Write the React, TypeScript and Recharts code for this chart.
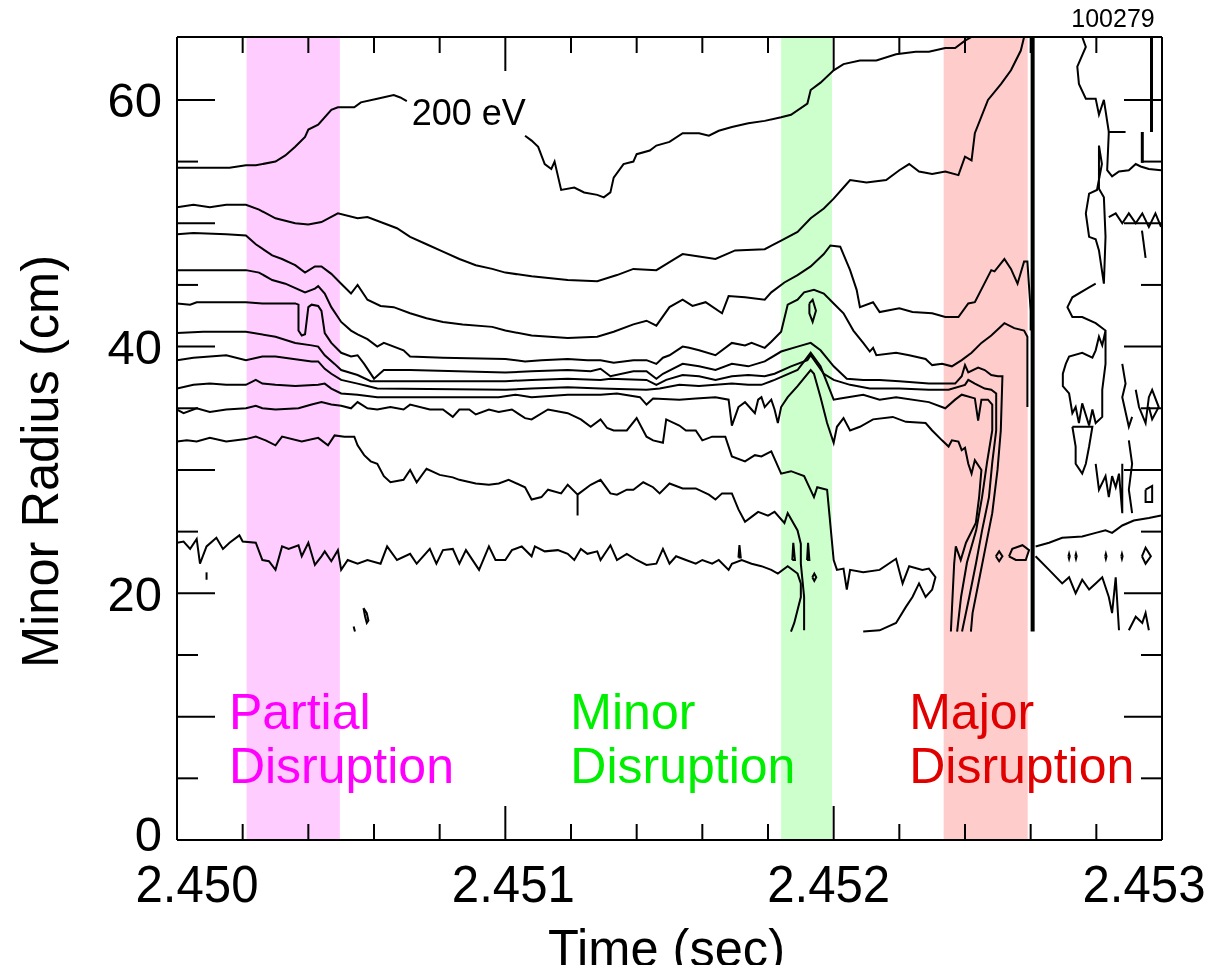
import React from 'react';
import { LineChart, Line, XAxis, YAxis, ReferenceArea, ReferenceLine, ReferenceDot } from 'recharts';

type Pt = [number, number]; // [time (sec), minor radius (cm)]

const W = 1210;
const H = 957;
const PLOT_LEFT = 169;
const PLOT_TOP = 29;
const PLOT_W = 985;
const PLOT_H = 803;
const PLOT_RIGHT = PLOT_LEFT + PLOT_W;
const PLOT_BOTTOM = PLOT_TOP + PLOT_H;
const FONT = '"Liberation Sans", Arial, Helvetica, sans-serif';

// axes
const timeTicks = [2.45, 2.4502, 2.4504, 2.4506, 2.4508, 2.451, 2.4512, 2.4514, 2.4516, 2.4518, 2.452, 2.4522, 2.4524, 2.4526, 2.4528, 2.453];
const timeLabels = ['2.450', '2.451', '2.452', '2.453'];
const radiusTicks = [0, 5, 10, 15, 20, 25, 30, 35, 40, 45, 50, 55, 60];
const radiusLabels = [0, 20, 40, 60];
const shotNumber = '100279';

// disruption windows
const partialBand = [2.450212, 2.450496];
const minorBand = [2.45184, 2.451995];
const majorBand = [2.452335, 2.452591];
const quenchTime = 2.452606;

const bandNotes = [
  { lines: ['Partial', 'Disruption'], t: 2.450158, r: 8.97, color: '#ff00ff' },
  { lines: ['Minor', 'Disruption'], t: 2.451198, r: 8.97, color: '#00ee00' },
  { lines: ['Major', 'Disruption'], t: 2.45223, r: 8.97, color: '#e00000' },
];
const levelNote = { text: '200 eV', t: 2.450715, r: 58.0 };

// 200 eV contour (broken by its label)
const lvl1a: Pt[] = [[2.45, 54.5], [2.45016, 54.5], [2.45021, 54.7], [2.45024, 54.7], [2.4503, 55.0], [2.45033, 55.5], [2.45036, 56.2], [2.45039, 57.0], [2.4504, 57.6], [2.45043, 58.0], [2.45047, 59.2], [2.45049, 59.4], [2.45054, 59.4], [2.45056, 59.8], [2.45061, 60.1], [2.45066, 60.4], [2.45068, 60.2], [2.4507, 59.9]];
const lvl1b: Pt[] = [[2.45106, 57.1], [2.45108, 56.7], [2.4511, 56.2], [2.45112, 54.8], [2.45114, 54.4], [2.45115, 55.0], [2.45117, 52.7], [2.45121, 52.9], [2.45124, 52.5], [2.45128, 52.3], [2.4513, 52.1], [2.45132, 52.5], [2.45133, 53.7], [2.45136, 54.8], [2.45139, 55.0], [2.4514, 55.6], [2.45144, 55.9], [2.45146, 56.3], [2.4515, 56.6], [2.45154, 57.3], [2.45159, 57.3], [2.45162, 57.1], [2.45165, 57.5], [2.45169, 57.8], [2.45174, 58.1], [2.45179, 58.3], [2.45184, 58.6], [2.45187, 58.8], [2.45192, 59.7], [2.45193, 60.8], [2.45196, 61.4], [2.452, 62.4], [2.45203, 62.9], [2.45208, 63.2], [2.45213, 63.2], [2.45219, 63.7], [2.45225, 63.9], [2.45229, 63.9], [2.45234, 64.2], [2.45237, 64.2], [2.4524, 64.8], [2.45242, 65.1]];
const lvl2: Pt[] = [[2.45, 51.3], [2.45005, 51.5], [2.4501, 51.3], [2.45015, 51.5], [2.45021, 51.5], [2.45025, 51.1], [2.4503, 50.4], [2.45036, 50.0], [2.4504, 49.9], [2.45044, 50.1], [2.45049, 50.8], [2.45055, 50.4], [2.45058, 50.5], [2.45063, 50.0], [2.45067, 49.6], [2.45071, 48.9], [2.45076, 48.3], [2.45081, 47.7], [2.45086, 47.1], [2.45091, 46.6], [2.45096, 46.3], [2.451, 46.0], [2.45108, 45.7], [2.45119, 45.4], [2.45128, 45.3], [2.45134, 45.8], [2.45139, 46.3], [2.45146, 46.2], [2.45154, 47.5], [2.45159, 47.3], [2.45164, 47.1], [2.4517, 47.8], [2.45179, 47.9], [2.45184, 48.6], [2.45189, 49.3], [2.45193, 50.4], [2.45197, 51.2], [2.452, 52.0], [2.45203, 52.9], [2.45205, 53.5], [2.4521, 53.3], [2.45216, 53.5], [2.4522, 54.3], [2.45223, 54.8], [2.45226, 54.2], [2.4523, 54.0], [2.45234, 54.2], [2.45238, 53.9], [2.4524, 55.4], [2.45242, 55.1], [2.45243, 57.3], [2.45247, 60.0], [2.45251, 61.3], [2.45254, 62.4], [2.45257, 64.0], [2.45258, 65.1]];
const lvl3: Pt[] = [[2.45, 49.1], [2.45005, 49.2], [2.45015, 49.1], [2.45021, 49.0], [2.45024, 48.3], [2.45029, 47.4], [2.45032, 47.1], [2.45036, 46.6], [2.45039, 46.0], [2.45042, 46.5], [2.45044, 46.5], [2.45047, 45.9], [2.4505, 45.1], [2.45053, 44.3], [2.45055, 45.0], [2.45058, 43.8], [2.45062, 43.3], [2.45066, 43.2], [2.45071, 42.7], [2.45076, 42.3], [2.45081, 42.0], [2.45087, 41.8], [2.45096, 41.6], [2.451, 41.3], [2.45108, 40.9], [2.45119, 40.7], [2.45128, 40.8], [2.45133, 41.2], [2.45139, 41.8], [2.45143, 42.1], [2.45146, 41.7], [2.4515, 43.2], [2.45154, 43.8], [2.45157, 43.3], [2.45161, 43.6], [2.45166, 42.7], [2.45168, 44.1], [2.45173, 44.0], [2.45179, 43.8], [2.45181, 44.4], [2.45185, 45.2], [2.45189, 45.8], [2.45193, 46.5], [2.45197, 47.5], [2.45199, 48.2], [2.45202, 48.1], [2.45205, 46.2], [2.45207, 44.6], [2.45208, 43.2], [2.45212, 43.6], [2.45214, 42.8], [2.4522, 43.1], [2.45224, 42.8], [2.4523, 42.7], [2.45234, 42.4], [2.45238, 42.4], [2.45241, 43.5], [2.45243, 43.6], [2.45248, 46.2], [2.45249, 46.1], [2.45252, 47.1], [2.45254, 46.3], [2.45256, 45.1], [2.45258, 46.9], [2.45259, 46.9], [2.4526, 42.9], [2.4526, 41.3]];
const lvl4: Pt[] = [[2.45, 46.2], [2.4501, 46.2], [2.45016, 46.2], [2.45021, 46.2], [2.45025, 46.0], [2.45029, 45.4], [2.45033, 45.1], [2.45039, 44.4], [2.45042, 44.7], [2.45043, 44.9], [2.45045, 44.3], [2.45047, 43.2], [2.4505, 42.0], [2.45053, 41.3], [2.45055, 41.0], [2.45058, 40.6], [2.45061, 40.0], [2.45063, 40.3], [2.45069, 39.7], [2.45071, 39.2], [2.45081, 39.1], [2.451, 39.0], [2.45106, 38.8], [2.45111, 38.9], [2.45119, 39.0], [2.45125, 38.9], [2.45129, 38.9], [2.45133, 38.7], [2.45139, 38.9], [2.45143, 38.9], [2.45146, 38.6], [2.45148, 39.1], [2.4515, 39.3], [2.45154, 40.0], [2.45156, 39.9], [2.45159, 39.7], [2.45164, 39.3], [2.45169, 40.3], [2.45173, 40.1], [2.45175, 40.3], [2.45179, 39.9], [2.45181, 40.4], [2.45184, 41.2], [2.45186, 43.4], [2.45189, 43.8], [2.45191, 44.4], [2.45194, 44.6], [2.45197, 44.3], [2.452, 43.5], [2.45203, 42.7], [2.45206, 41.3], [2.45209, 40.3], [2.45211, 39.6], [2.45212, 39.9], [2.45213, 39.3], [2.45219, 39.5], [2.45223, 39.3], [2.45228, 39.0], [2.4523, 38.5], [2.45233, 38.6], [2.45236, 38.4], [2.45239, 38.9], [2.45242, 39.5], [2.45245, 40.3], [2.45248, 40.9], [2.45252, 41.9], [2.45255, 41.5], [2.45258, 41.3], [2.45259, 40.8], [2.45259, 38.1], [2.45259, 35.1]];
const lvl5: Pt[] = [[2.45, 43.5], [2.45004, 43.4], [2.45006, 43.6], [2.45021, 43.6], [2.45026, 43.5], [2.45036, 43.5], [2.45037, 43.4], [2.45037, 41.3], [2.45038, 40.9], [2.45039, 41.0], [2.4504, 43.2], [2.45041, 43.4], [2.45043, 43.3], [2.45044, 42.9], [2.45045, 41.1], [2.45047, 40.3], [2.4505, 39.5], [2.45053, 39.2], [2.45055, 39.3], [2.45057, 38.6], [2.4506, 37.4], [2.45063, 38.1], [2.45071, 38.1], [2.451, 37.9], [2.45108, 38.0], [2.45119, 38.1], [2.45126, 38.0], [2.45129, 38.2], [2.45132, 37.6], [2.45139, 38.0], [2.45143, 38.0], [2.45146, 37.4], [2.45148, 37.8], [2.45154, 38.6], [2.45159, 38.4], [2.45164, 38.1], [2.45169, 38.6], [2.45174, 38.4], [2.45179, 38.8], [2.45184, 39.6], [2.45189, 40.0], [2.45193, 40.3], [2.45196, 39.7], [2.452, 38.4], [2.45204, 37.4], [2.45209, 37.3], [2.45214, 37.3], [2.4522, 37.2], [2.45229, 37.0], [2.45233, 37.0], [2.45237, 37.0], [2.45239, 37.6], [2.4524, 38.5], [2.45241, 37.9], [2.45244, 38.3], [2.45246, 38.1], [2.45248, 37.7], [2.4525, 37.6], [2.452514, 37.6], [2.452509, 33.2], [2.452499, 30.0], [2.452483, 26.5], [2.452463, 23.8], [2.452443, 21.1], [2.452423, 18.4], [2.452418, 16.9]];
const lvl6: Pt[] = [[2.45, 41.1], [2.45008, 41.2], [2.45021, 41.2], [2.4503, 40.8], [2.45036, 40.3], [2.45041, 40.1], [2.45043, 40.0], [2.45045, 39.3], [2.45048, 38.6], [2.4505, 38.1], [2.45055, 37.7], [2.45059, 37.2], [2.45061, 37.2], [2.451, 37.2], [2.45108, 37.3], [2.45119, 37.4], [2.45129, 37.3], [2.45132, 37.4], [2.45143, 37.3], [2.45146, 36.9], [2.45149, 37.3], [2.45154, 37.7], [2.45159, 37.6], [2.45164, 37.3], [2.45169, 37.6], [2.45174, 37.7], [2.45179, 37.6], [2.45182, 37.8], [2.45187, 38.4], [2.45192, 38.9], [2.45193, 39.3], [2.45197, 37.8], [2.452, 37.3], [2.45205, 36.9], [2.45211, 36.6], [2.4522, 36.6], [2.45229, 36.5], [2.45235, 36.5], [2.4524, 36.9], [2.45241, 37.3], [2.45243, 37.0], [2.45246, 36.6], [2.45248, 36.5], [2.452495, 36.2], [2.452495, 33.2], [2.452483, 30.6], [2.452473, 27.8], [2.452452, 25.1], [2.452434, 22.5], [2.452413, 19.7], [2.452391, 16.9]];
const lvl7: Pt[] = [[2.45, 38.9], [2.45005, 39.1], [2.4501, 39.2], [2.45015, 39.3], [2.45021, 38.9], [2.45026, 39.2], [2.4503, 39.2], [2.45041, 38.8], [2.45043, 38.8], [2.45045, 38.2], [2.45047, 37.8], [2.4505, 37.3], [2.45055, 37.0], [2.45058, 36.8], [2.45061, 36.6], [2.451, 36.5], [2.45108, 36.6], [2.45119, 36.7], [2.45129, 36.6], [2.45143, 36.5], [2.45147, 36.6], [2.45153, 36.9], [2.45159, 36.8], [2.45169, 37.0], [2.45174, 36.9], [2.45178, 36.9], [2.45182, 37.3], [2.45189, 38.1], [2.45193, 39.5], [2.45196, 38.4], [2.452, 35.7], [2.45202, 35.8], [2.45209, 36.1], [2.45214, 35.7], [2.45219, 35.9], [2.45229, 35.5], [2.45234, 35.0], [2.45237, 35.7], [2.45239, 36.1], [2.45243, 35.8], [2.45244, 34.0], [2.45245, 35.7], [2.45247, 35.7], [2.452483, 35.3], [2.452483, 33.2], [2.452467, 30.6], [2.452452, 27.8], [2.452434, 25.1], [2.452406, 22.5], [2.452388, 19.7], [2.452376, 16.9]];
const lvl8: Pt[] = [[2.45, 36.6], [2.45005, 36.9], [2.4501, 37.0], [2.45015, 36.9], [2.45021, 36.9], [2.45024, 37.3], [2.45026, 37.0], [2.4503, 36.9], [2.45036, 36.8], [2.45043, 36.9], [2.45045, 37.0], [2.45047, 36.6], [2.4505, 36.2], [2.45055, 36.1], [2.45061, 35.9], [2.45098, 35.9], [2.45103, 36.1], [2.45108, 35.9], [2.45119, 36.1], [2.45129, 36.1], [2.45134, 36.2], [2.45141, 35.9], [2.45143, 35.3], [2.45145, 35.8], [2.45153, 35.7], [2.45158, 35.8], [2.45164, 35.9], [2.45168, 35.7], [2.45169, 33.6], [2.45171, 35.1], [2.45173, 35.5], [2.45175, 34.9], [2.45176, 34.6], [2.45177, 35.7], [2.45178, 35.9], [2.45179, 35.1], [2.45181, 35.7], [2.45182, 34.9], [2.45183, 33.8], [2.45184, 35.1], [2.45186, 35.9], [2.45189, 36.8], [2.45193, 38.1], [2.45194, 37.8], [2.45196, 35.9], [2.45198, 33.8], [2.452, 32.2], [2.45201, 33.5], [2.45203, 34.2], [2.45205, 33.2], [2.45208, 33.5], [2.45212, 34.1], [2.45218, 34.3], [2.45222, 33.9], [2.45228, 33.8], [2.4523, 33.2], [2.45233, 32.4], [2.45235, 31.9], [2.45236, 32.4], [2.45238, 32.3], [2.45239, 31.6], [2.4524, 31.8], [2.45241, 30.5], [2.45242, 29.7], [2.45243, 30.8], [2.45245, 30.0], [2.452443, 27.8], [2.452433, 25.7], [2.452403, 24.1], [2.452387, 22.7], [2.452372, 23.8], [2.452367, 22.4], [2.452362, 19.7], [2.452357, 16.9]];
const lvl9: Pt[] = [[2.45, 34.9], [2.45002, 34.6], [2.45006, 35.0], [2.4501, 34.7], [2.45015, 34.9], [2.45021, 35.0], [2.45024, 35.2], [2.45026, 35.0], [2.4503, 34.9], [2.45037, 35.0], [2.45041, 35.3], [2.45044, 35.5], [2.45047, 35.3], [2.4505, 35.2], [2.45053, 35.0], [2.45055, 35.5], [2.45058, 35.0], [2.45061, 34.9], [2.45065, 35.1], [2.45069, 34.9], [2.45071, 35.3], [2.45077, 34.9], [2.45081, 34.9], [2.45084, 34.3], [2.45086, 34.9], [2.45089, 34.9], [2.45091, 34.5], [2.45095, 34.9], [2.45098, 34.7], [2.45102, 34.9], [2.45106, 34.2], [2.45108, 34.1], [2.45113, 34.9], [2.45119, 34.6], [2.45123, 34.1], [2.45126, 33.5], [2.45129, 34.1], [2.45131, 33.4], [2.45133, 33.2], [2.45137, 33.2], [2.4514, 34.2], [2.45143, 32.7], [2.45145, 32.4], [2.45148, 32.2], [2.45149, 34.1], [2.45153, 33.6], [2.45155, 33.2], [2.45158, 33.2], [2.4516, 32.4], [2.45163, 32.7], [2.45167, 32.7], [2.45169, 31.1], [2.45173, 30.7], [2.45176, 31.2], [2.45178, 31.1], [2.45181, 31.5], [2.45184, 29.7], [2.45187, 29.9], [2.45191, 29.5], [2.45194, 27.8], [2.45195, 28.6], [2.45198, 28.4], [2.452, 22.7], [2.45201, 21.9], [2.45203, 22.0], [2.45204, 20.3], [2.45205, 21.9], [2.45209, 21.7], [2.45214, 21.9], [2.45219, 22.8], [2.45221, 20.8], [2.45223, 22.2], [2.45227, 21.9], [2.45229, 22.0], [2.45231, 21.3], [2.4523, 20.3], [2.45228, 19.7], [2.45226, 20.8], [2.45224, 19.7], [2.45222, 18.9], [2.45219, 17.6], [2.45214, 17.0], [2.45209, 16.9]];
const lvl10: Pt[] = [[2.45, 32.3], [2.45003, 32.4], [2.45006, 32.3], [2.4501, 32.6], [2.45015, 32.3], [2.45021, 32.5], [2.45024, 32.7], [2.45027, 32.4], [2.4503, 32.0], [2.45032, 32.7], [2.45038, 32.3], [2.45043, 32.6], [2.45046, 32.0], [2.45048, 32.8], [2.45051, 32.7], [2.45054, 32.7], [2.45055, 32.0], [2.45057, 31.2], [2.45059, 30.7], [2.45061, 30.5], [2.45063, 29.5], [2.45065, 29.0], [2.45069, 29.2], [2.45071, 30.0], [2.45073, 29.0], [2.45076, 30.1], [2.4508, 29.6], [2.45084, 29.4], [2.45086, 29.2], [2.45091, 28.9], [2.45095, 28.8], [2.45098, 28.9], [2.45101, 29.2], [2.45106, 28.6], [2.45108, 27.6], [2.45111, 27.8], [2.45113, 28.4], [2.45117, 28.1], [2.45119, 28.8], [2.45122, 28.0], [2.45122, 26.3], [2.45122, 28.0], [2.45126, 28.8], [2.45129, 29.2], [2.45132, 28.1], [2.45134, 28.0], [2.45137, 28.4], [2.45139, 28.4], [2.45142, 29.0], [2.45145, 28.6], [2.45147, 28.1], [2.4515, 28.9], [2.45154, 28.5], [2.45158, 28.5], [2.45162, 28.0], [2.45164, 27.6], [2.45166, 28.1], [2.45169, 28.1], [2.45171, 26.8], [2.45173, 25.8], [2.45175, 26.2], [2.45177, 26.6], [2.4518, 26.3], [2.45182, 26.6], [2.45185, 25.7], [2.45186, 26.5], [2.45189, 25.1], [2.4519, 24.0], [2.4519, 22.4], [2.45191, 19.7], [2.45191, 17.0]];
const lvl11: Pt[] = [[2.45, 24.1], [2.45002, 24.2], [2.45004, 23.6], [2.45006, 24.4], [2.45007, 22.4], [2.45009, 23.8], [2.45012, 24.5], [2.45014, 23.6], [2.45016, 24.1], [2.45019, 24.7], [2.4502, 24.2], [2.45024, 24.1], [2.45026, 22.7], [2.45028, 22.6], [2.4503, 21.9], [2.45032, 23.8], [2.45034, 23.6], [2.45037, 23.9], [2.45038, 23.0], [2.4504, 24.1], [2.45042, 22.3], [2.45044, 23.0], [2.45045, 23.4], [2.45047, 22.6], [2.45049, 23.5], [2.4505, 21.9], [2.45052, 22.7], [2.45055, 22.4], [2.45058, 22.7], [2.45062, 22.4], [2.45064, 23.8], [2.45067, 22.7], [2.45071, 23.2], [2.45073, 22.4], [2.45077, 23.6], [2.45079, 22.4], [2.45081, 23.5], [2.45084, 23.6], [2.45086, 22.4], [2.45088, 23.5], [2.45092, 21.9], [2.45095, 23.8], [2.45097, 22.7], [2.451, 22.7], [2.45102, 23.5], [2.45105, 23.8], [2.45108, 23.0], [2.45109, 23.8], [2.45112, 23.4], [2.45116, 23.5], [2.45119, 23.2], [2.45121, 22.7], [2.45123, 23.6], [2.45125, 23.2], [2.45128, 23.4], [2.45129, 22.7], [2.45132, 23.9], [2.45134, 22.7], [2.45137, 23.2], [2.4514, 22.7], [2.45143, 22.3], [2.45146, 22.4], [2.45148, 23.6], [2.4515, 22.4], [2.45152, 23.0], [2.45155, 22.7], [2.45158, 22.4], [2.4516, 22.7], [2.45163, 22.4], [2.45165, 22.7], [2.45168, 21.9], [2.45169, 22.4], [2.45172, 22.7], [2.45175, 22.4], [2.45178, 22.2], [2.45181, 21.9], [2.45183, 21.6], [2.45186, 22.2], [2.45189, 21.6], [2.4519, 20.8], [2.4519, 19.7], [2.45188, 17.6], [2.45187, 16.9]];

// small islands and fragments
const islands: Pt[][] = [
  [[2.45009, 21.7], [2.45009, 21.1]],
  [[2.450568, 18.8], [2.450578, 18.4], [2.450583, 17.8], [2.450578, 17.6], [2.450573, 18.1], [2.450568, 18.8]],
  [[2.450538, 17.3], [2.450542, 16.9]],
  [[2.451926, 43.5], [2.451936, 43.8], [2.451946, 42.9], [2.451936, 42.0], [2.451926, 42.7], [2.451926, 43.5]],
  [[2.45171, 22.9], [2.451713, 23.9], [2.451717, 22.9], [2.45171, 22.9]],
  [[2.451874, 22.7], [2.451877, 24.1], [2.451882, 22.7], [2.451874, 22.7]],
  [[2.451919, 22.7], [2.451922, 24.1], [2.451926, 22.7], [2.451919, 22.7]],
  [[2.451935, 21.3], [2.451941, 21.6], [2.451947, 21.3], [2.451941, 21.0], [2.451935, 21.3]],
];

// post-quench fragments
const afterQuench: Pt[][] = [
  [[2.452757, 65.1], [2.452768, 64.3], [2.452742, 62.7], [2.452747, 61.3], [2.452768, 60.1], [2.452798, 60.1], [2.452808, 58.8], [2.452823, 60.0], [2.452838, 57.4], [2.452889, 57.4]],
  [[2.452838, 57.4], [2.452833, 54.3], [2.452848, 53.8], [2.452869, 54.2], [2.452899, 54.3], [2.45292, 54.8], [2.452935, 54.6], [2.45296, 54.4], [2.452997, 54.3]],
  [[2.452808, 56.3], [2.452817, 54.8], [2.452802, 52.7], [2.452778, 52.4], [2.452768, 50.8], [2.452778, 48.9], [2.452798, 48.7], [2.452808, 47.8], [2.452823, 45.1], [2.452828, 48.9], [2.452823, 52.1], [2.452808, 52.8], [2.452808, 56.3]],
  [[2.452838, 50.5], [2.452859, 50.8], [2.452879, 50.0], [2.452899, 50.8], [2.45292, 50.0], [2.45294, 50.8], [2.45296, 49.7], [2.45298, 50.8], [2.452997, 49.7]],
  [[2.452939, 49.4], [2.45295, 47.2]],
  [[2.452798, 45.1], [2.452778, 44.8], [2.452727, 44.0], [2.452712, 43.2], [2.452727, 42.4], [2.452757, 42.4], [2.452798, 41.9], [2.452828, 41.3], [2.452818, 40.1], [2.452808, 40.8], [2.452798, 39.7], [2.452788, 39.1], [2.452757, 39.5], [2.452717, 39.2], [2.452707, 38.6], [2.452698, 37.8], [2.452698, 36.8], [2.452717, 36.2], [2.452727, 34.6], [2.452737, 35.1], [2.452747, 33.8], [2.452757, 35.4], [2.452778, 33.6], [2.452788, 34.9], [2.452798, 33.8], [2.452818, 34.3], [2.452818, 36.5], [2.452828, 38.6], [2.452828, 41.3]],
  [[2.452727, 33.5], [2.452737, 31.9], [2.452737, 30.5], [2.452757, 29.7], [2.452768, 30.5], [2.452778, 31.9], [2.452788, 33.5], [2.452727, 33.5]],
  [[2.452798, 30.5], [2.452808, 28.4], [2.452828, 29.5], [2.452838, 27.8], [2.452848, 29.5], [2.452859, 28.6], [2.452869, 29.7], [2.452879, 26.5], [2.452879, 30.5]],
  [[2.452615, 23.8], [2.452656, 24.1], [2.452696, 24.5], [2.452757, 24.6], [2.452798, 24.9], [2.452828, 25.1], [2.452848, 24.9], [2.452879, 25.5], [2.452914, 25.9], [2.45296, 26.1], [2.452997, 26.3]],
  [[2.452615, 23.0], [2.452656, 21.9], [2.452696, 20.8], [2.452717, 21.3], [2.452737, 20.0], [2.452757, 21.1], [2.452778, 20.3], [2.452798, 20.8], [2.452818, 21.3], [2.452838, 19.7], [2.452848, 18.4], [2.452859, 21.3], [2.452869, 17.0]],
  [[2.452534, 23.0], [2.452544, 23.6], [2.452575, 23.9], [2.452595, 23.5], [2.452585, 22.7], [2.452555, 22.7], [2.452534, 23.0]],
  [[2.452494, 23.0], [2.452504, 23.4], [2.452514, 23.0], [2.452504, 22.6], [2.452494, 23.0]],
  [[2.452715, 23.0], [2.452717, 23.2], [2.452719, 23.0], [2.452717, 22.8], [2.452715, 23.0]],
  [[2.452736, 23.0], [2.452738, 23.2], [2.45274, 23.0], [2.452738, 22.8], [2.452736, 23.0]],
  [[2.452827, 23.0], [2.452829, 23.2], [2.452831, 23.0], [2.452829, 22.8], [2.452827, 23.0]],
  [[2.452876, 23.0], [2.452878, 23.2], [2.45288, 23.0], [2.452878, 22.8], [2.452876, 23.0]],
  [[2.452939, 23.0], [2.45295, 23.7], [2.452966, 23.0], [2.45295, 22.4], [2.452939, 23.0]],
  [[2.452899, 17.0], [2.45292, 18.1], [2.45294, 17.6], [2.45295, 18.4], [2.45296, 17.0]],
  [[2.452879, 38.6], [2.452889, 37.0], [2.452879, 35.9], [2.452899, 33.5], [2.452909, 34.3]],
  [[2.45292, 36.5], [2.45293, 35.1], [2.45295, 33.8], [2.45296, 35.9], [2.45297, 36.5], [2.45299, 35.1], [2.45297, 34.1], [2.45296, 35.1]],
  [[2.452899, 32.4], [2.452909, 30.5], [2.452899, 28.4], [2.452909, 26.5]],
  [[2.45295, 28.4], [2.45297, 28.7], [2.45297, 27.4], [2.45295, 27.4], [2.45295, 28.4]],
];
const boldStrokes: Pt[][] = [
  [[2.452968, 65.1], [2.452968, 57.4]],
  [[2.45294, 57.4], [2.45294, 54.9]],
];
const quenchLine: Pt[] = [[quenchTime, 65.1], [quenchTime, 16.9]];

const contours: Pt[][] = [lvl1a, lvl1b, lvl2, lvl3, lvl4, lvl5, lvl6, lvl7, lvl8, lvl9, lvl10, lvl11];

const rows = (pts: Pt[]) => pts.map(([t, r]) => ({ t, r }));

const LABEL_SHIFT = [20, 8, -5, -18];

const XTick = (props: any) => {
  const { x, payload } = props;
  const v: number = payload.value;
  const idx = timeLabels.findIndex((s) => Math.abs(parseFloat(s) - v) < 1e-7);
  const len = idx >= 0 ? 34 : 16;
  return (
    <g>
      <line x1={x} x2={x} y1={PLOT_BOTTOM} y2={PLOT_BOTTOM - len} stroke="#000" strokeWidth={2} />
      <line x1={x} x2={x} y1={PLOT_TOP} y2={PLOT_TOP + len} stroke="#000" strokeWidth={2} />
      {idx >= 0 && (
        <text x={x + LABEL_SHIFT[idx]} y={PLOT_BOTTOM + 62} textAnchor="middle" fontSize={52} fontFamily={FONT} fill="#000" textLength={123} lengthAdjust="spacingAndGlyphs">
          {timeLabels[idx]}
        </text>
      )}
    </g>
  );
};

const YTick = (props: any) => {
  const { y, payload } = props;
  const v: number = payload.value;
  const len = v % 10 === 0 ? 38 : 21;
  return (
    <g>
      <line x1={PLOT_LEFT} x2={PLOT_LEFT + len} y1={y} y2={y} stroke="#000" strokeWidth={2} />
      <line x1={PLOT_RIGHT} x2={PLOT_RIGHT - len} y1={y} y2={y} stroke="#000" strokeWidth={2} />
      {radiusLabels.includes(v) && (
        <text x={PLOT_LEFT - 15} y={y + (v === 0 ? 11 : 17.5)} textAnchor="end" fontSize={49} fontFamily={FONT} fill="#000">
          {v}
        </text>
      )}
    </g>
  );
};

const xTitle = () => (
  <text x={PLOT_LEFT + 489.5} y={PLOT_BOTTOM + 126} textAnchor="middle" fontSize={52} fontFamily={FONT} fill="#000" textLength={237} lengthAdjust="spacingAndGlyphs">
    Time (sec)
  </text>
);

const yTitle = () => (
  <text x={0} y={0} transform={`translate(50, 453.5) rotate(-90)`} textAnchor="middle" fontSize={52} fontFamily={FONT} fill="#000" textLength={413} lengthAdjust="spacingAndGlyphs">
    Minor Radius (cm)
  </text>
);

const runLabel = (props: any) => {
  const vb = props.viewBox || {};
  return (
    <text x={(vb.x ?? PLOT_LEFT) + (vb.width ?? PLOT_W) - 49} y={(vb.y ?? PLOT_TOP) - 10} textAnchor="middle" fontSize={25} fontFamily={FONT} fill="#000">
      {shotNumber}
    </text>
  );
};

const noteLabel = (lines: string[], color: string) => (props: any) => {
  const vb = props.viewBox || {};
  return (
    <text x={vb.x} y={vb.y} fontSize={50} fontFamily={FONT} fill={color}>
      {lines.map((s, i) => (
        <tspan key={s} x={vb.x} dy={i === 0 ? 0 : 53.4}>
          {s}
        </tspan>
      ))}
    </text>
  );
};

const levelLabel = (props: any) => {
  const vb = props.viewBox || {};
  return (
    <text x={vb.x} y={vb.y} fontSize={36} fontFamily={FONT} fill="#000">
      {levelNote.text}
    </text>
  );
};

export default function App() {
  const lineProps = {
    dataKey: 'r',
    stroke: '#000',
    strokeWidth: 2,
    dot: false,
    activeDot: false,
    isAnimationActive: false,
    type: 'linear' as const,
    legendType: 'none' as const,
  };
  return (
    <div style={{ position: 'fixed', left: 8, top: 8, width: W, height: H }}>
      <LineChart width={W} height={H} margin={{ top: PLOT_TOP, right: W - PLOT_RIGHT, bottom: H - PLOT_BOTTOM - 60, left: PLOT_LEFT - 60 }}>
        <XAxis
          dataKey="t"
          type="number"
          domain={[2.45, 2.453]}
          ticks={timeTicks}
          interval={0}
          allowDataOverflow
          tick={XTick}
          tickLine={false}
          tickSize={0}
          tickMargin={0}
          axisLine={{ stroke: '#000', strokeWidth: 2 }}
          height={60}
          label={xTitle}
        />
        <YAxis
          type="number"
          domain={[0, 65.1]}
          ticks={radiusTicks}
          interval={0}
          allowDataOverflow
          tick={YTick}
          tickLine={false}
          tickSize={0}
          tickMargin={0}
          axisLine={{ stroke: '#000', strokeWidth: 2 }}
          width={60}
          label={yTitle}
        />
        <ReferenceArea x1={partialBand[0]} x2={partialBand[1]} y1={0} y2={65.1} fill="#ffccff" fillOpacity={1} stroke="none" />
        <ReferenceArea x1={minorBand[0]} x2={minorBand[1]} y1={0} y2={65.1} fill="#ccffcc" fillOpacity={1} stroke="none" />
        <ReferenceArea x1={majorBand[0]} x2={majorBand[1]} y1={0} y2={65.1} fill="#ffcccc" fillOpacity={1} stroke="none" />
        {contours.map((c, i) => (
          <Line key={`c${i}`} data={rows(c)} {...lineProps} />
        ))}
        {islands.map((c, i) => (
          <Line key={`i${i}`} data={rows(c)} {...lineProps} />
        ))}
        {afterQuench.map((c, i) => (
          <Line key={`q${i}`} data={rows(c)} {...lineProps} />
        ))}
        {boldStrokes.map((c, i) => (
          <Line key={`b${i}`} data={rows(c)} {...lineProps} strokeWidth={3} />
        ))}
        <Line key="quench" data={rows(quenchLine)} {...lineProps} strokeWidth={4} />
        <ReferenceLine y={65.1} stroke="#000" strokeWidth={2} label={runLabel} />
        <ReferenceLine x={2.453} stroke="#000" strokeWidth={2} />
        {bandNotes.map((n) => (
          <ReferenceDot key={n.lines[0]} x={n.t} y={n.r} r={0} fill="none" stroke="none" label={noteLabel(n.lines, n.color)} />
        ))}
        <ReferenceDot x={levelNote.t} y={levelNote.r} r={0} fill="none" stroke="none" label={levelLabel} />
      </LineChart>
    </div>
  );
}
